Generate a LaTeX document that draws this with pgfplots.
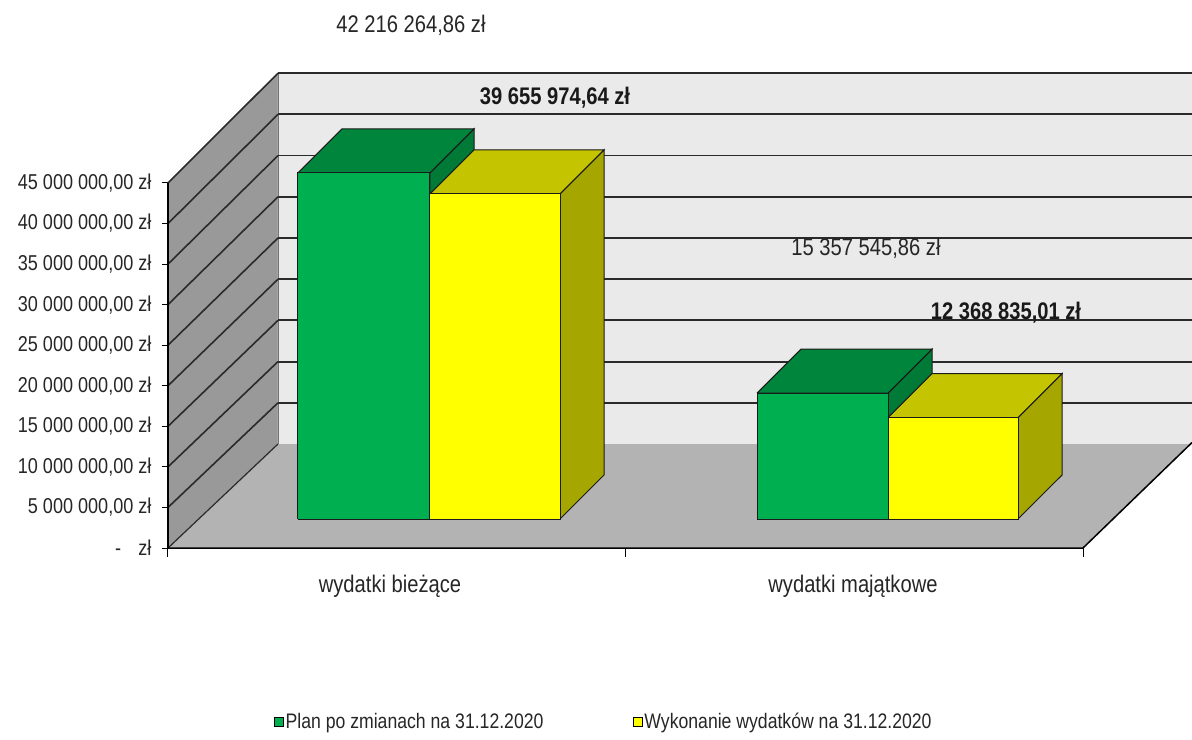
\documentclass[border=0pt]{standalone}
\usepackage{fontspec}
\setmainfont{Liberation Sans}[FakeStretch=0.84]
\usepackage{pgfplots}
\pgfplotsset{compat=1.18}

\definecolor{gFront}{HTML}{00B050}
\definecolor{gTop}{HTML}{00863C}
\definecolor{gSide}{HTML}{007A36}
\definecolor{yFront}{HTML}{FFFF00}
\definecolor{yTop}{HTML}{C4C400}
\definecolor{ySide}{HTML}{A6A600}
\definecolor{backWall}{HTML}{EAEAEA}
\definecolor{sideWall}{HTML}{999999}
\definecolor{floorC}{HTML}{B3B3B3}
\definecolor{gridC}{HTML}{2A2A2A}
\definecolor{edgeC}{HTML}{1A1A1A}

% 3-D bar: #1 left x, #2 right x, #3 value (mln zl), #4 front, #5 top, #6 side colour
\newcommand{\barbox}[6]{%
  \pgfmathsetmacro\bYb{3.575}%
  \pgfmathsetmacro\bYt{3.575+1.011*#3}%
  \pgfmathsetmacro\bYtb{\bYt+5.42}%
  \pgfmathsetmacro\bYbb{\bYb+5.42}%
  \pgfmathsetmacro\bXl{#1}%
  \pgfmathsetmacro\bXr{#2}%
  \pgfmathsetmacro\bXlb{#1+44}%
  \pgfmathsetmacro\bXrb{#2+44}%
  \addplot[fill=#6, draw=edgeC, line width=1pt] coordinates {(\bXr,\bYb) (\bXr,\bYt) (\bXrb,\bYtb) (\bXrb,\bYbb) (\bXr,\bYb)};
  \addplot[fill=#5, draw=edgeC, line width=1pt] coordinates {(\bXl,\bYt) (\bXr,\bYt) (\bXrb,\bYtb) (\bXlb,\bYtb) (\bXl,\bYt)};
  \addplot[fill=#4, draw=edgeC, line width=1pt] coordinates {(\bXl,\bYb) (\bXr,\bYb) (\bXr,\bYt) (\bXl,\bYt) (\bXl,\bYb)};
}

\begin{document}
\begin{tikzpicture}
\begin{axis}[
  scale only axis, width=1024pt, height=548pt,
  xmin=0, xmax=1024, ymin=0, ymax=67.56,
  clip=false, no markers,
  axis line style={draw=none},
  tick pos=left, tick align=outside, major tick length=6pt,
  ytick={0,5,...,45},
  yticklabels={{-\hspace{0.8em}zł},{5 000 000,00 zł},{10 000 000,00 zł},{15 000 000,00 zł},{20 000 000,00 zł},{25 000 000,00 zł},{30 000 000,00 zł},{35 000 000,00 zł},{40 000 000,00 zł},{45 000 000,00 zł}},
  yticklabel style={font=\fontsize{21.5pt}{21.5pt}\selectfont, text=black!85, xshift=-7pt},
  ytick style={draw=black, line width=1pt},
  xtick={222,685},
  xticklabels={wydatki bieżące, wydatki majątkowe},
  xtick style={draw=none},
  xticklabel style={font=\fontsize{24pt}{24pt}\selectfont, text=black!85, yshift=-18pt},
  legend columns=2,
  legend style={at={(axis cs:106,-21.45)}, anchor=west, draw=none, fill=none,
    inner sep=0pt, font=\fontsize{21pt}{21pt}\selectfont, text=black!85,
    nodes={inner xsep=1.5pt, inner ysep=1pt},
    /tikz/every even column/.append style={column sep=88pt}},
  legend image code/.code={\draw[#1, draw=black, line width=0.9pt] (0pt,-4.5pt) rectangle (9pt,4.5pt);},
]
\addlegendimage{fill=gFront}
\addlegendentry{Plan po zmianach na 31.12.2020}
\addlegendimage{fill=yFront}
\addlegendentry{Wykonanie wydatków na 31.12.2020}

% walls and floor
\addplot[fill=sideWall, draw=none] coordinates {(0,0) (0,45) (110,58.54) (110,12.82) (0,0)};
\addplot[fill=backWall, draw=none] coordinates {(110,12.82) (110,58.54) (1024,58.54) (1024,12.82) (110,12.82)};
\addplot[fill=floorC, draw=none] coordinates {(0,0) (915,0) (1024,13.0) (1024,12.82) (110,12.82) (0,0)};
\addplot[black!55, line width=0.6pt] coordinates {(110,12.82) (110,58.54)};

% back wall gridlines
\addplot[gridC, line width=1.8pt] coordinates {(110,17.90) (1024,17.90)};
\addplot[gridC, line width=1.8pt] coordinates {(110,22.98) (1024,22.98)};
\addplot[gridC, line width=1.8pt] coordinates {(110,28.06) (1024,28.06)};
\addplot[gridC, line width=1.8pt] coordinates {(110,33.14) (1024,33.14)};
\addplot[gridC, line width=1.8pt] coordinates {(110,38.22) (1024,38.22)};
\addplot[gridC, line width=1.8pt] coordinates {(110,43.30) (1024,43.30)};
\addplot[gridC, line width=1.8pt] coordinates {(110,48.38) (1024,48.38)};
\addplot[gridC, line width=1.8pt] coordinates {(110,53.46) (1024,53.46)};
\addplot[gridC, line width=1.8pt] coordinates {(110,58.54) (1024,58.54)};
% side wall gridlines
\addplot[gridC, line width=1.2pt] coordinates {(0,0) (110,12.82)};
\addplot[gridC, line width=1.6pt] coordinates {(0,5) (110,17.90)};
\addplot[gridC, line width=1.6pt] coordinates {(0,10) (110,22.98)};
\addplot[gridC, line width=1.6pt] coordinates {(0,15) (110,28.06)};
\addplot[gridC, line width=1.6pt] coordinates {(0,20) (110,33.14)};
\addplot[gridC, line width=1.6pt] coordinates {(0,25) (110,38.22)};
\addplot[gridC, line width=1.6pt] coordinates {(0,30) (110,43.30)};
\addplot[gridC, line width=1.6pt] coordinates {(0,35) (110,48.38)};
\addplot[gridC, line width=1.6pt] coordinates {(0,40) (110,53.46)};
\addplot[gridC, line width=1.6pt] coordinates {(0,45) (110,58.54)};
% axes / floor edges
\addplot[black, line width=1.2pt] coordinates {(0,0) (0,45)};
\addplot[black, line width=1.5pt] coordinates {(0,0) (915,0) (1024,13.0)};
\addplot[black, line width=1pt] coordinates {(0,0) (0,-1.1)};
\addplot[black, line width=1pt] coordinates {(457,0) (457,-1.1)};
\addplot[black, line width=1pt] coordinates {(915,0) (915,-1.1)};

% bars
\barbox{130}{262}{42.21626486}{gFront}{gTop}{gSide}
\barbox{262}{392}{39.65597464}{yFront}{yTop}{ySide}
\barbox{589}{720}{15.35754586}{gFront}{gTop}{gSide}
\barbox{720}{850}{12.36883501}{yFront}{yTop}{ySide}

% value labels
\node[font=\fontsize{24pt}{24pt}\selectfont, text=black!85] at (axis cs:243,64.48) {42 216 264,86 zł};
\node[font=\fontsize{24pt}{24pt}\selectfont\bfseries, text=black!90] at (axis cs:387,55.48) {39 655 974,64 zł};
\node[font=\fontsize{24pt}{24pt}\selectfont, text=black!85] at (axis cs:698,36.99) {15 357 545,86 zł};
\node[font=\fontsize{24pt}{24pt}\selectfont\bfseries, text=black!90] at (axis cs:838,28.97) {12 368 835,01 zł};

\coordinate (BBa) at (axis cs:-168,-23.67);
\coordinate (BBb) at (axis cs:1024,67.56);
\end{axis}
\pgfresetboundingbox
\path (BBa) rectangle (BBb);
\end{tikzpicture}
\end{document}
